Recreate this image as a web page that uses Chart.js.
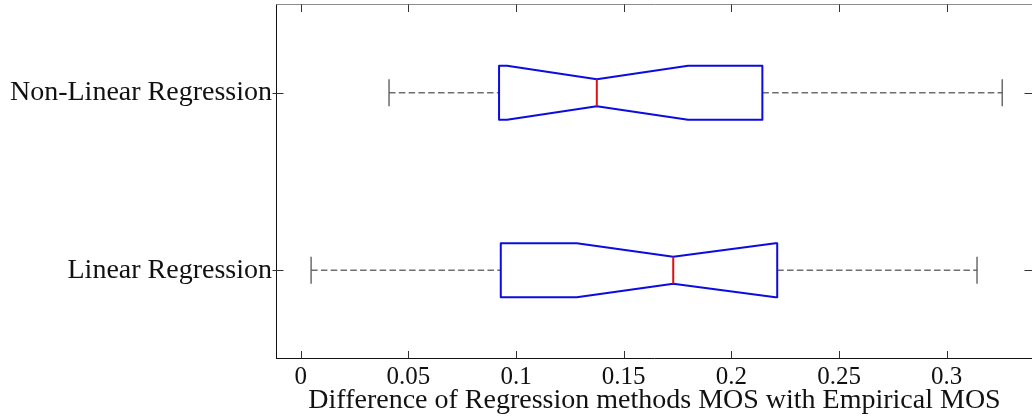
<!DOCTYPE html>
<html>
<head>
<meta charset="utf-8">
<script src="https://cdn.jsdelivr.net/npm/chart.js@4"></script>
<style>
  html, body { margin: 0; padding: 0; background: #fff; overflow: hidden; }
  #wrap { width: 1040px; height: 419px; }
</style>
</head>
<body>
<div id="wrap"><canvas id="box"></canvas></div>
<script>
// box plot values (order: bottom group first)
const categories = ['Linear Regression', 'Non-Linear Regression']
const whiskerLow = [0.0048, 0.0410]
const q1 = [0.0929, 0.0921]
const notchLow = [0.1282, 0.0958]
const medians = [0.1730, 0.1375]
const notchHigh = [0.2205, 0.1799]
const q3 = [0.2213, 0.2144]
const whiskerHigh = [0.3141, 0.3258]
const xTicks = [0, 0.05, 0.1, 0.15, 0.2, 0.25, 0.3]
const xTitle = 'Difference of Regression methods MOS with Empirical MOS'

const serif = '"Liberation Serif", "Times New Roman", serif'

// draws the notched boxes, whiskers, frame and inward ticks
const boxPlot = {
  id: 'boxPlot',
  afterDatasetsDraw(chart) {
    const { ctx, chartArea: a, scales: { x, y } } = chart
    const unit = Math.abs(y.getPixelForValue(1) - y.getPixelForValue(0))
    const half = unit * 0.152
    const px = v => x.getPixelForValue(v)
    const line = (x1, y1, x2, y2) => { ctx.beginPath(); ctx.moveTo(x1, y1); ctx.lineTo(x2, y2); ctx.stroke() }

    ctx.save()
    categories.forEach((c, i) => {
      const cy = y.getPixelForValue(i)

      // whiskers
      ctx.strokeStyle = '#6e6e6e'
      ctx.lineWidth = 1.3
      ctx.setLineDash([6.5, 3.3])
      line(px(whiskerLow[i]), cy, px(q1[i]), cy)
      line(px(q3[i]), cy, px(whiskerHigh[i]), cy)
      ctx.setLineDash([])
      ctx.strokeStyle = '#555'
      line(px(whiskerLow[i]), cy - half / 2, px(whiskerLow[i]), cy + half / 2)
      line(px(whiskerHigh[i]), cy - half / 2, px(whiskerHigh[i]), cy + half / 2)

      // notched box
      ctx.strokeStyle = '#0c0ce0'
      ctx.lineWidth = 2
      ctx.lineJoin = 'round'
      ctx.beginPath()
      ctx.moveTo(px(q1[i]), cy - half)
      ctx.lineTo(px(notchLow[i]), cy - half)
      ctx.lineTo(px(medians[i]), cy - half / 2)
      ctx.lineTo(px(notchHigh[i]), cy - half)
      ctx.lineTo(px(q3[i]), cy - half)
      ctx.lineTo(px(q3[i]), cy + half)
      ctx.lineTo(px(notchHigh[i]), cy + half)
      ctx.lineTo(px(medians[i]), cy + half / 2)
      ctx.lineTo(px(notchLow[i]), cy + half)
      ctx.lineTo(px(q1[i]), cy + half)
      ctx.closePath()
      ctx.stroke()

      // median
      ctx.strokeStyle = '#e01010'
      line(px(medians[i]), cy - half / 2, px(medians[i]), cy + half / 2)
    })

    // frame
    ctx.lineWidth = 1
    const L = Math.round(a.left) + 0.5, R = Math.round(a.right) - 0.5
    const T = Math.round(a.top) + 0.5, B = Math.round(a.bottom) - 0.5
    ctx.strokeStyle = '#8a8a8a'
    line(L, T, R, T)
    line(R, T, R, B)
    ctx.strokeStyle = '#111'
    line(L, T, L, B + 0.5)
    line(L, B, R, B)

    // ticks pointing inwards
    ctx.strokeStyle = '#333'
    x.ticks.forEach(t => {
      const tx = Math.round(px(t.value)) + 0.5
      line(tx, T, tx, T + 7.5)
      line(tx, B, tx, B - 7.5)
    })
    y.ticks.forEach(t => {
      const ty = Math.round(y.getPixelForValue(t.value)) + 0.5
      line(L - 4, ty, L + 7, ty)
      line(R, ty, R - 8, ty)
    })
    ctx.restore()
  }
}

new Chart(document.getElementById('box'), {
  type: 'bar',
  data: {
    labels: categories,
    datasets: [{
      data: categories.map((c, i) => [q1[i], q3[i]]),
      backgroundColor: 'rgba(0,0,0,0)',
      borderWidth: 0
    }]
  },
  options: {
    indexAxis: 'y',
    responsive: true,
    maintainAspectRatio: false,
    animation: false,
    devicePixelRatio: 1,
    layout: { padding: { top: 4, right: 7, left: 0, bottom: 0 } },
    plugins: { legend: { display: false }, tooltip: { enabled: false } },
    scales: {
      x: {
        type: 'linear',
        min: -0.0115,
        max: 0.3401,
        afterBuildTicks: s => { s.ticks = xTicks.map(v => ({ value: v })) },
        afterFit: s => { s.height = 60; s.paddingLeft = 0; s.paddingRight = 0 },
        grid: { display: false, drawTicks: false },
        border: { display: false },
        ticks: {
          color: '#111',
          padding: 6,
          maxRotation: 0,
          autoSkip: false,
          font: { family: serif, size: 25, lineHeight: 1 },
          callback: v => String(v)
        },
        title: {
          display: true,
          text: xTitle,
          color: '#111',
          padding: { top: 0, bottom: 4.5 },
          font: { family: serif, size: 28, lineHeight: 1 }
        }
      },
      y: {
        type: 'category',
        reverse: true,
        afterFit: s => { s.width = 276; s.paddingTop = 0; s.paddingBottom = 0 },
        grid: { display: false, drawTicks: false },
        border: { display: false },
        ticks: {
          color: '#111',
          padding: 4,
          font: { family: serif, size: 28, lineHeight: 1 }
        }
      }
    }
  },
  plugins: [boxPlot]
})
</script>
</body>
</html>
